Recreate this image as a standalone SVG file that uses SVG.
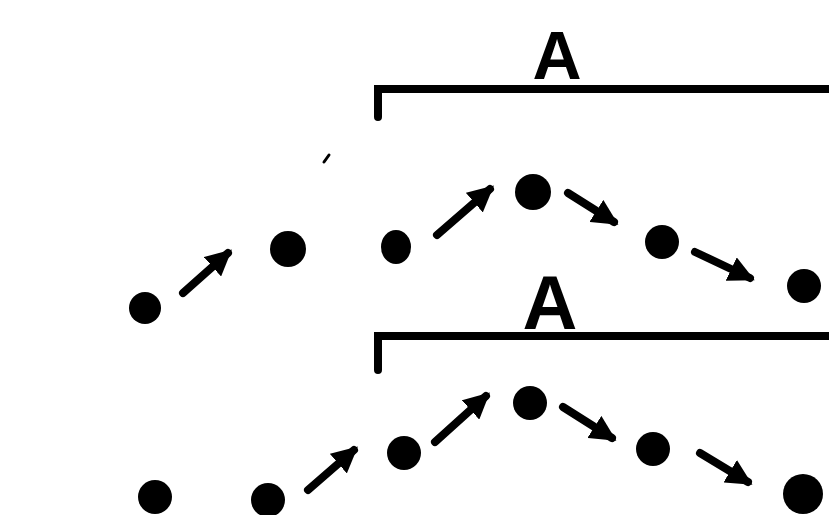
<svg xmlns="http://www.w3.org/2000/svg" width="829" height="515" viewBox="0 0 829 515">
<style>
.dot{fill:#000}
.arr{stroke:#000;stroke-width:8;stroke-linecap:round;fill:none;marker-end:url(#ah)}
.br{stroke:#000;stroke-width:8;fill:none;stroke-linecap:round;stroke-linejoin:miter}
.lbl{font-family:"Liberation Sans",Arial,sans-serif;font-weight:bold;fill:#000;text-anchor:middle}
</style>
<defs>
<marker id="ah" viewBox="0 0 10 10" refX="8" refY="5" markerWidth="26" markerHeight="26" markerUnits="userSpaceOnUse" orient="auto">
<path d="M0,0 L10,5 L0,10 z" fill="#000"/>
</marker>
</defs>
<rect width="829" height="515" fill="#fff"/>
<g id="bracket-top">
<path class="br" d="M378,117 V89 H829"/>
<text class="lbl" x="557" y="79" font-size="68">A</text>
</g>
<g id="bracket-mid">
<path class="br" d="M378,370 V336 H829"/>
<text class="lbl" x="550" y="329" font-size="76">A</text>
</g>
<path d="M324,162 L329,155" stroke="#000" stroke-width="3" stroke-linecap="round"/>
<g id="r1n1"><circle class="dot" cx="145" cy="308" r="16"/></g>
<g id="r1n2"><circle class="dot" cx="288" cy="249" r="18"/></g>
<g id="r1n3"><ellipse class="dot" cx="396" cy="247" rx="15" ry="17"/></g>
<g id="r1n4"><circle class="dot" cx="533" cy="192" r="18"/></g>
<g id="r1n5"><circle class="dot" cx="662" cy="242" r="17"/></g>
<g id="r1n6"><circle class="dot" cx="804" cy="286" r="17"/></g>
<g id="r2n1"><circle class="dot" cx="155" cy="497" r="17"/></g>
<g id="r2n2"><circle class="dot" cx="268" cy="500" r="17"/></g>
<g id="r2n3"><circle class="dot" cx="404" cy="453" r="17"/></g>
<g id="r2n4"><circle class="dot" cx="530" cy="403" r="17"/></g>
<g id="r2n5"><circle class="dot" cx="653" cy="449" r="17"/></g>
<g id="r2n6"><circle class="dot" cx="803" cy="494" r="20"/></g>
<g id="connectors">
<line class="arr" x1="183" y1="293" x2="228" y2="253"/>
<line class="arr" x1="437" y1="235" x2="490" y2="189"/>
<line class="arr" x1="568" y1="193" x2="614" y2="222"/>
<line class="arr" x1="695" y1="252" x2="750" y2="278"/>
<line class="arr" x1="308" y1="490" x2="354" y2="450"/>
<line class="arr" x1="435" y1="442" x2="486" y2="396"/>
<line class="arr" x1="563" y1="407" x2="612" y2="438"/>
<line class="arr" x1="700" y1="453" x2="748" y2="482"/>
</g>
</svg>
